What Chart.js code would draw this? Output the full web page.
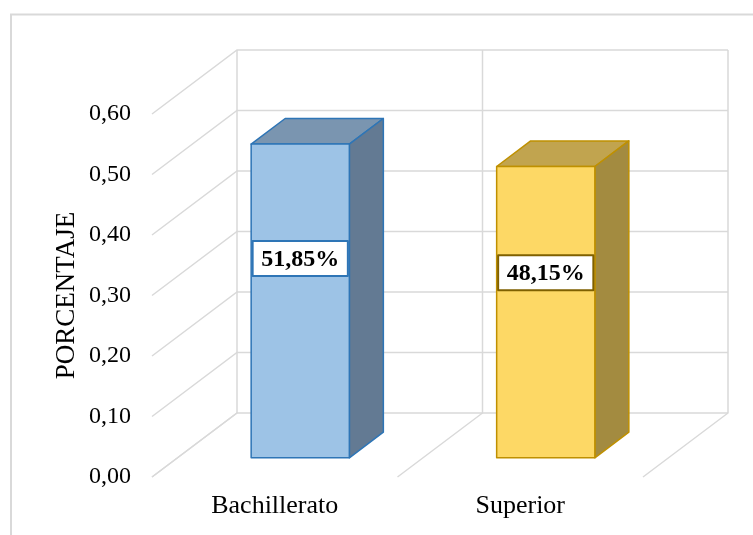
<!DOCTYPE html>
<html>
<head>
<meta charset="utf-8">
<script src="https://cdn.jsdelivr.net/npm/chart.js@4"></script>
<style>
  body { margin: 0; background: #ffffff; }
  #grafico { display: block; }
</style>
</head>
<body>
<canvas id="grafico" width="753" height="535"></canvas>
<script>
// datos
const categorias = ['Bachillerato', 'Superior'];
const porcentajes = [0.5185, 0.4815];
const etiquetas = ['51,85%', '48,15%'];
const colorFrente = ['#9dc3e6', '#fdd865'];
const colorBorde = ['#2e75b6', '#bf9000'];
const colorTapa = ['#7a95b0', '#c1a44f'];
const colorLado = ['#637a93', '#a38b40'];
const colorEtiqueta = ['#2e75b6', '#7f6000'];

// profundidad 3D (px)
const PROF_X = 85;
const PROF_Y = 64;
const D_FRENTE = 0.3;
const D_FONDO = 0.7;
const GRIS = '#d9d9d9';

function punto(x, y, d) {
    return [x + d * PROF_X, y - d * PROF_Y];
}

function poligono(ctx, pts, relleno, borde) {
    ctx.beginPath();
    ctx.moveTo(pts[0][0], pts[0][1]);
    for (let i = 1; i < pts.length; i++) ctx.lineTo(pts[i][0], pts[i][1]);
    ctx.closePath();
    ctx.fillStyle = relleno;
    ctx.fill();
    ctx.strokeStyle = borde;
    ctx.lineWidth = 1.5;
    ctx.lineJoin = 'round';
    ctx.stroke();
}

const grafico3D = {
    id: 'grafico3D',
    beforeDraw(chart) {
        const ctx = chart.ctx;
        ctx.save();
        ctx.strokeStyle = GRIS;
        ctx.lineWidth = 2;
        ctx.strokeRect(11, 14.5, 900, 700);
        ctx.restore();
    },
    beforeDatasetsDraw(chart) {
        const ctx = chart.ctx;
        const area = chart.chartArea;
        const y = chart.scales.y;
        ctx.save();
        ctx.strokeStyle = GRIS;
        ctx.lineWidth = 1.5;
        // pared del fondo y pared izquierda
        y.ticks.forEach(t => {
            const py = y.getPixelForValue(t.value);
            const a = punto(area.left, py, 0);
            const b = punto(area.left, py, 1);
            const c = punto(area.right, py, 1);
            ctx.beginPath();
            ctx.moveTo(a[0], a[1]);
            ctx.lineTo(b[0], b[1]);
            ctx.lineTo(c[0], c[1]);
            ctx.stroke();
        });
        // lineas verticales del fondo y del piso
        const ancho = (area.right - area.left) / categorias.length;
        for (let i = 0; i <= categorias.length; i++) {
            const px = area.left + i * ancho;
            const a = punto(px, y.getPixelForValue(0), 0);
            const b = punto(px, y.getPixelForValue(0), 1);
            const c = punto(px, y.getPixelForValue(y.max), 1);
            ctx.beginPath();
            ctx.moveTo(a[0], a[1]);
            ctx.lineTo(b[0], b[1]);
            ctx.lineTo(c[0], c[1]);
            ctx.stroke();
        }
        ctx.restore();
    },
    afterDatasetsDraw(chart) {
        const ctx = chart.ctx;
        const meta = chart.getDatasetMeta(0);
        ctx.save();
        meta.data.forEach((el, i) => {
            const x0 = el.x - el.width / 2;
            const x1 = el.x + el.width / 2;
            const ft = [punto(x0, el.y, D_FRENTE), punto(x1, el.y, D_FRENTE)];
            const fb = [punto(x0, el.base, D_FRENTE), punto(x1, el.base, D_FRENTE)];
            const bt = [punto(x0, el.y, D_FONDO), punto(x1, el.y, D_FONDO)];
            const bb = punto(x1, el.base, D_FONDO);
            // tapa
            poligono(ctx, [ft[0], ft[1], bt[1], bt[0]], colorTapa[i], colorBorde[i]);
            // lado
            poligono(ctx, [ft[1], bt[1], bb, fb[1]], colorLado[i], colorBorde[i]);
            // frente
            poligono(ctx, [ft[0], ft[1], fb[1], fb[0]], colorFrente[i], colorBorde[i]);

            // etiqueta de datos
            const cy = el.base + (el.y - el.base) * 0.635;
            const c = punto(el.x, cy, D_FRENTE);
            const w = el.width - 3;
            const h = 35;
            ctx.fillStyle = '#ffffff';
            ctx.fillRect(c[0] - w / 2, c[1] - h / 2, w, h);
            ctx.strokeStyle = colorEtiqueta[i];
            ctx.lineWidth = 2;
            ctx.strokeRect(c[0] - w / 2, c[1] - h / 2, w, h);
            ctx.fillStyle = '#000000';
            ctx.font = 'bold 24px "Liberation Serif"';
            ctx.textAlign = 'center';
            ctx.textBaseline = 'middle';
            ctx.fillText(etiquetas[i], c[0], c[1] + 1);
        });
        ctx.restore();
    }
};

new Chart(document.getElementById('grafico'), {
    type: 'bar',
    data: {
        labels: categorias,
        datasets: [{
            label: 'PORCENTAJE',
            data: porcentajes,
            backgroundColor: 'rgba(0,0,0,0)',
            borderWidth: 0,
            categoryPercentage: 1,
            barPercentage: 0.4
        }]
    },
    options: {
        responsive: false,
        animation: false,
        layout: { padding: { top: 114, right: 110, left: 0, bottom: 0 } },
        plugins: {
            legend: { display: false },
            tooltip: { enabled: false }
        },
        scales: {
            x: {
                grid: { display: false, drawTicks: false },
                border: { display: false },
                ticks: {
                    color: '#000000',
                    padding: 14,
                    font: { family: 'Liberation Serif', size: 26 }
                },
                afterFit: function (scale) { scale.height = 58; }
            },
            y: {
                min: 0,
                max: 0.6,
                grid: { display: false, drawTicks: false },
                border: { display: false },
                ticks: {
                    stepSize: 0.1,
                    color: '#000000',
                    padding: 21,
                    font: { family: 'Liberation Serif', size: 24 },
                    callback: function (v) { return v.toFixed(2).replace('.', ','); }
                },
                title: {
                    display: true,
                    text: 'PORCENTAJE',
                    color: '#000000',
                    padding: { top: 51, bottom: 0 },
                    font: { family: 'Liberation Serif', size: 27 }
                },
                afterFit: function (scale) { scale.width = 152; }
            }
        }
    },
    plugins: [grafico3D]
});
</script>
</body>
</html>
